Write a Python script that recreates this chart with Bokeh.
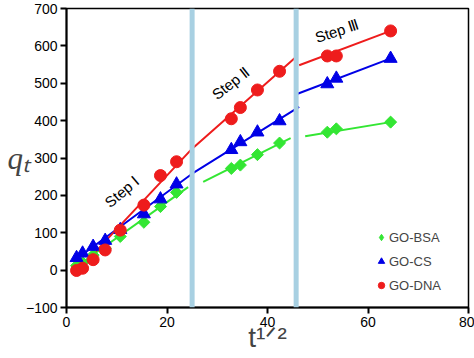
from bokeh.plotting import figure
from bokeh.models import Range1d, Span, Label, Legend, LegendItem, FixedTicker
from bokeh.embed import file_html
from bokeh.resources import INLINE

# ---- data ----
sqrt_t = [2.0, 3.2, 5.3, 7.7, 10.7, 15.4, 18.7, 21.9, 32.8, 34.6, 38.0, 42.4, 51.9, 53.7, 64.5]
bsa_q = [12, 20, 40, 58, 90, 128, 170, 208, 272, 281, 309, 340, 369, 378, 396]
cs_q = [33, 45, 63, 79, 108, 150, 190, 230, 322, 343, 369, 399, 498, 513, 566]
dna_q = [-1, 5, 28, 54, 107, 174, 253, 290, 405, 435, 482, 532, 573, 573, 640]

# fitted lines (step I / II / III)
bsa_fit = [([1.5, 24.2], [5, 222]), ([27.2, 44.6], [236, 353]), ([47.5, 64.5], [358, 396])]
cs_fit = [([1.5, 25.0, 46.3], [25, 258, 437]), ([45.6, 64.4], [470, 566])]
dna_fit = [([1.5, 25.0, 45.5], [-12, 325, 568]), ([46.3, 64.5], [548, 640])]

step_bounds = [25.0, 45.7]
step_labels = ["Step \u2160", "Step \u2161", "Step \u2162"]
step_label_x = [11.0, 32.6, 53.8]
step_label_y = [210, 500, 640]
step_label_angle = [40, 38, 18]

x_ticks = [0, 20, 40, 60, 80]
y_ticks = [-100, 0, 100, 200, 300, 400, 500, 600, 700]

GREEN = "#33e633"
BLUE = "#0000e6"
RED = "#ee1c1c"
FONT = "Liberation Sans"

p = figure(width=474, height=358, output_backend="svg", toolbar_location=None,
           x_range=Range1d(0, 80), y_range=Range1d(-100, 700),
           min_border_left=66, min_border_right=6, min_border_top=8, min_border_bottom=51)
p.grid.visible = False
p.outline_line_color = "black"
p.outline_line_width = 1.5
p.background_fill_color = "white"
p.border_fill_color = "white"

for ax in (p.xaxis[0], p.yaxis[0]):
    ax.axis_line_width = 2
    ax.axis_line_color = "black"
    ax.major_tick_line_width = 2
    ax.major_tick_out = 6
    ax.major_tick_in = 0
    ax.minor_tick_line_color = None
    ax.major_label_text_font = FONT
    ax.major_label_text_font_size = "14px"
    ax.major_label_text_color = "black"
    ax.major_label_standoff = 3
p.xaxis[0].ticker = FixedTicker(ticks=x_ticks)
p.yaxis[0].ticker = FixedTicker(ticks=y_ticks)

# axis titles
p.yaxis[0].axis_label = "q\u209c"
p.yaxis[0].axis_label_orientation = "horizontal"
p.yaxis[0].axis_label_text_font = "Liberation Serif"
p.yaxis[0].axis_label_text_font_style = "italic"
p.yaxis[0].axis_label_text_font_size = "31px"
p.yaxis[0].axis_label_standoff = -7
p.xaxis[0].axis_label = "t\u00b9\u141f\u00b2"
p.xaxis[0].axis_label_text_font = FONT
p.xaxis[0].axis_label_text_font_style = "normal"
p.xaxis[0].axis_label_text_font_size = "28px"
p.xaxis[0].axis_label_standoff = -8

# fitted lines
for fits, col in ((bsa_fit, GREEN), (cs_fit, BLUE), (dna_fit, RED)):
    for xs, ys in fits:
        p.line(xs, ys, line_color=col, line_width=2)

# data points
p.scatter(sqrt_t, bsa_q, marker="square", angle=0.785398, size=8.5, color=GREEN)
r_bsa = p.scatter(sqrt_t, bsa_q, marker="diamond", size=0, color=GREEN)  # legend glyph only
r_cs = p.scatter(sqrt_t, cs_q, marker="triangle", size=13, color=BLUE)
r_dna = p.scatter(sqrt_t, dna_q, marker="circle", size=12, color=RED)

# step boundaries
for b in step_bounds:
    p.add_layout(Span(location=b, dimension="height", line_color="#a8d0e2", line_width=5))

# step labels
for txt, lx, ly, ang in zip(step_labels, step_label_x, step_label_y, step_label_angle):
    p.add_layout(Label(x=lx, y=ly, text=txt, angle=ang, angle_units="deg",
                       text_align="center", text_baseline="middle",
                       text_font=FONT, text_font_size="15px", text_color="black"))

legend = Legend(items=[LegendItem(label="GO-BSA", renderers=[r_bsa]),
                       LegendItem(label="GO-CS", renderers=[r_cs]),
                       LegendItem(label="GO-DNA", renderers=[r_dna])],
                location=(307, 12), glyph_width=16, glyph_height=20, spacing=4,
                label_standoff=0, padding=0, margin=0, border_line_color=None,
                background_fill_alpha=0, label_text_font=FONT, label_text_font_size="13px")
p.add_layout(legend)

open("out.html", "w").write(file_html(p, INLINE))
